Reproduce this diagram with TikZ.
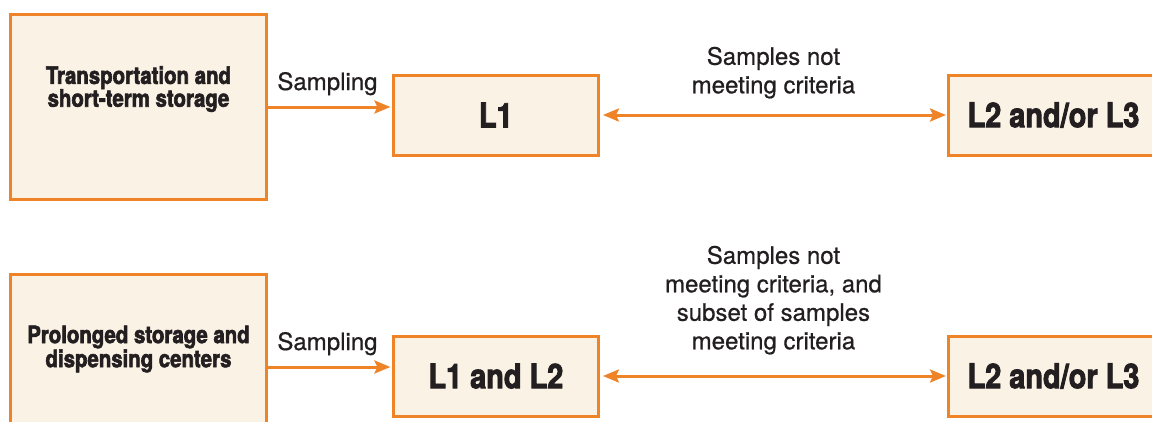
\documentclass[tikz,border=0pt]{standalone}
\usepackage{fontspec}
\usetikzlibrary{arrows.meta}
\newfontfamily\boxfont[FakeStretch=0.85,FakeBold=2.5]{TeX Gyre Heros}
\newfontfamily\labfont[FakeBold=0.6]{TeX Gyre Heros}
\definecolor{orng}{RGB}{239,131,40}
\definecolor{cream}{RGB}{251,242,230}
\definecolor{ink}{RGB}{35,31,32}
\begin{document}
\begin{tikzpicture}[x=1pt,y=-1pt,
  box/.style={draw=orng, fill=cream, line width=3pt, rectangle, inner sep=0pt, text=ink},
  bigtext/.style={font=\boxfont\bfseries\fontsize{34}{34}\selectfont},
  srctext/.style={font=\boxfont\bfseries\fontsize{24}{22.8}\selectfont, align=center, text=ink, inner sep=0pt},
  lab/.style={font=\labfont\fontsize{24}{28.5}\selectfont, align=center, text=ink, inner sep=0pt},
  samp/.style={font=\labfont\fontsize{24}{28.5}\selectfont, text=ink, inner sep=0pt},
  conn/.style={draw=orng, line width=3pt, -{Stealth[length=16pt,width=13pt,inset=3pt]}, shorten >=1.5pt},
  dconn/.style={draw=orng, line width=3pt, {Stealth[length=16pt,width=13pt,inset=3pt]}-{Stealth[length=16pt,width=13pt,inset=3pt]}, shorten <=3pt, shorten >=1pt}
]
\useasboundingbox (0,0) rectangle (1152,421);
\clip (0,0) rectangle (1152,421);

% top row
\node[box, minimum width=256pt, minimum height=185pt] (src1) at (138.5,107) {};
\node[srctext] (src1t) at ([yshift=18pt]src1.center) {Transportation and\\short-term storage};
\node[box, bigtext, minimum width=205pt, minimum height=80pt] (l1) at (495.9,115) {L1};
\node[box, bigtext, minimum width=210pt, minimum height=80pt] (l23a) at (1053.5,115) {L2 and/or L3};

\draw[conn] (src1.east) -- (src1.east -| l1.west)
  node[samp, pos=0.48, anchor=base, yshift=17pt] (samp1) {Sampling};
\draw[dconn] (l1.east) -- (l23a.west)
  node[lab, midway, anchor=south, yshift=15pt] (crit1) {Samples not\\meeting criteria};

% bottom row
\node[box, minimum width=256pt, minimum height=185pt] (src2) at (138.5,367) {};
\node[srctext] (src2t) at ([yshift=18pt]src2.center) {Prolonged storage and\\dispensing centers};
\node[box, bigtext, minimum width=205pt, minimum height=80pt] (l12) at (495.9,376) {L1 and L2};
\node[box, bigtext, minimum width=210pt, minimum height=80pt] (l23b) at (1053.5,376) {L2 and/or L3};

\draw[conn] (src2.east) -- (src2.east -| l12.west)
  node[samp, pos=0.48, anchor=base, yshift=17pt] (samp2) {Sampling};
\draw[dconn] (l12.east) -- (l23b.west)
  node[lab, midway, anchor=south, yshift=20pt] (crit2) {Samples not\\meeting criteria, and\\subset of samples\\meeting criteria};
\end{tikzpicture}
\end{document}
